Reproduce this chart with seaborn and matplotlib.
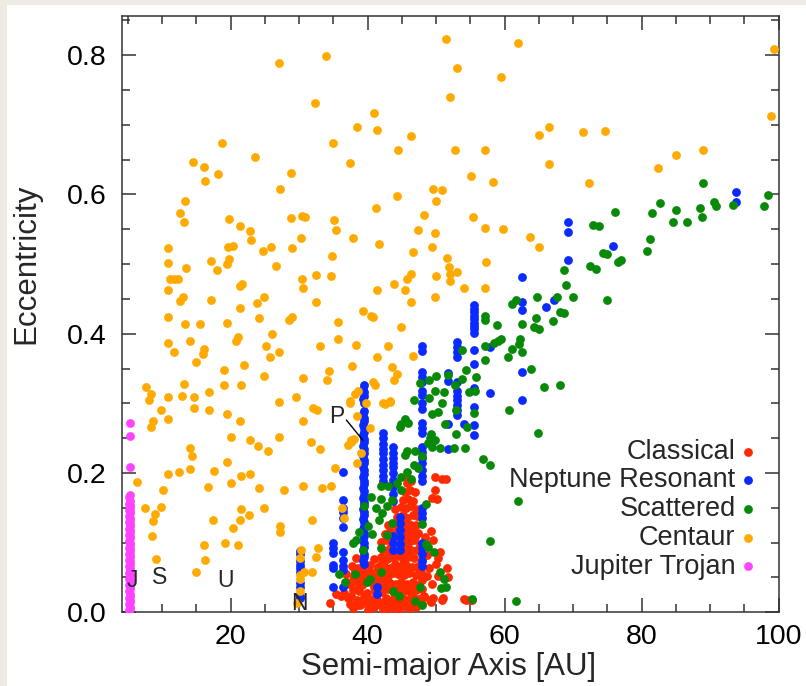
import matplotlib
matplotlib.use("Agg")
import matplotlib.pyplot as plt
from matplotlib.patches import Rectangle
from matplotlib.ticker import MultipleLocator, FormatStrFormatter
import seaborn as sns
import pandas as pd

# ---- Classical Kuiper belt objects: semi-major axis [AU], eccentricity
classical_a = [
    37.8, 38.9, 40.1, 41.0, 42.2, 43.0, 43.9, 44.6, 45.3, 46.1, 47.0, 48.0, 49.2,
    37.2, 38.4, 39.5, 40.6, 41.5, 42.7, 43.5, 44.2, 45.0, 45.8, 46.6, 47.4, 48.2, 49.5, 50.8, 54.0, 55.0,
    36.5, 37.9, 38.8, 39.9, 41.1, 42.1, 43.0, 43.8, 44.5, 45.4, 46.3, 47.1, 48.0,
    37.3, 38.3, 39.2, 40.5, 41.6, 42.5, 43.3, 44.1, 44.9, 45.7, 46.6, 47.5, 49.4,
    36.9, 38.0, 39.0, 40.1, 41.2, 42.0, 42.9, 43.7, 44.5, 45.3, 46.1, 47.0, 47.8, 50.3,
    37.7, 38.6, 40.3, 41.5, 42.4, 43.3, 44.0, 44.8, 45.6, 46.5, 47.3, 51.6,
    38.3, 41.0, 41.9, 42.8, 43.6, 44.3, 45.1, 45.9, 46.7, 48.0, 50.2,
    42.3, 43.2, 44.0, 44.9, 45.7, 46.4, 47.2, 50.6,
    41.9, 42.7, 43.5, 45.2, 46.0, 46.8, 49.6,
    42.5, 43.3, 44.3, 45.0, 45.8, 46.6, 47.4, 49.3,
    43.0, 44.0, 44.8, 45.5, 46.3, 47.1,
    44.3, 45.1, 45.8, 46.6, 47.2,
    44.0, 44.8, 45.6, 46.3, 47.0,
    45.2, 45.9, 46.6, 49.4, 50.1,
    45.5, 46.2, 46.9, 49.8,
    45.8, 46.4, 45.9, 49.9, 50.9, 51.4,
    41.6, 42.6, 43.4, 44.2, 45.0, 45.7, 46.5,
    42.5, 43.4, 44.3, 45.1, 45.9, 46.8,
    42.7, 43.5, 44.4, 45.2, 46.0,
    43.1, 43.9, 44.6, 45.4, 46.2,
    43.9, 44.7, 45.5, 46.2,
    44.5, 45.3, 46.0,
    34.5, 35.4, 36.1, 51.8, 54.3, 55.2, 49.1, 48.1, 51.0,
    37.4, 38.5, 39.6, 40.7, 41.8, 36.8, 37.9, 39.1, 40.2, 41.3,
    37.6, 38.7, 39.8, 40.9, 38.1, 39.3, 40.4, 41.4, 47.7, 48.4,
    42.0, 47.9, 48.6, 47.5, 46.9, 49.0, 50.0, 48.7,
]
classical_e = [
    0.006, 0.010, 0.004, 0.008, 0.005, 0.003, 0.007, 0.004, 0.009, 0.006, 0.008, 0.012, 0.015,
    0.020, 0.017, 0.022, 0.019, 0.016, 0.021, 0.018, 0.015, 0.020, 0.017, 0.022, 0.019, 0.024, 0.020, 0.018, 0.019, 0.018,
    0.028, 0.032, 0.030, 0.027, 0.031, 0.029, 0.033, 0.028, 0.031, 0.030, 0.027, 0.032, 0.034,
    0.041, 0.044, 0.039, 0.043, 0.040, 0.045, 0.042, 0.040, 0.044, 0.041, 0.043, 0.039, 0.040,
    0.055, 0.052, 0.057, 0.053, 0.056, 0.054, 0.052, 0.057, 0.055, 0.053, 0.056, 0.054, 0.058, 0.052,
    0.066, 0.063, 0.068, 0.065, 0.067, 0.064, 0.069, 0.066, 0.068, 0.065, 0.067, 0.064,
    0.078, 0.077, 0.080, 0.076, 0.079, 0.081, 0.077, 0.080, 0.078, 0.075, 0.078,
    0.089, 0.092, 0.088, 0.091, 0.093, 0.089, 0.090, 0.087,
    0.101, 0.104, 0.100, 0.103, 0.101, 0.104, 0.104,
    0.113, 0.116, 0.112, 0.115, 0.113, 0.116, 0.114, 0.117,
    0.125, 0.127, 0.124, 0.128, 0.126, 0.125,
    0.137, 0.139, 0.136, 0.140, 0.138,
    0.149, 0.151, 0.150, 0.152, 0.148,
    0.161, 0.163, 0.160, 0.164, 0.162,
    0.173, 0.175, 0.172, 0.176,
    0.185, 0.188, 0.192, 0.194, 0.192, 0.192,
    0.012, 0.013, 0.011, 0.012, 0.013, 0.011, 0.012,
    0.036, 0.037, 0.035, 0.036, 0.038, 0.035,
    0.060, 0.061, 0.059, 0.062, 0.060,
    0.084, 0.085, 0.083, 0.086, 0.084,
    0.108, 0.109, 0.107, 0.108,
    0.120, 0.121, 0.119,
    0.013, 0.026, 0.024, 0.050, 0.018, 0.018, 0.018, 0.022, 0.020,
    0.012, 0.010, 0.013, 0.011, 0.014, 0.043, 0.047, 0.048, 0.046, 0.049,
    0.024, 0.036, 0.025, 0.036, 0.060, 0.062, 0.058, 0.060, 0.096, 0.108,
    0.070, 0.046, 0.052, 0.062, 0.108, 0.064, 0.070, 0.082,
]

# ---- Objects in mean-motion resonance with Neptune
resonant_a = (
    [30.1] * 10
    + [35.0] * 6
    + [36.4] * 11
    + [39.4, 39.3, 39.5, 39.4, 39.3, 39.5, 39.4, 39.3, 39.5, 39.4, 39.3, 39.5, 39.4,
       39.3, 39.5, 39.4, 39.3, 39.5, 39.4, 39.3, 39.5, 39.4, 39.3, 39.5, 39.4, 39.3,
       39.5, 39.4, 39.3, 39.5, 39.4, 39.3, 39.5, 39.4, 39.3, 39.5, 39.4, 39.3, 39.5,
       39.4, 39.3, 39.5, 39.4, 39.3, 39.5, 39.4, 39.3, 39.5, 39.4, 39.3, 39.4]
    + [42.3] * 10 + [41.4, 41.4]
    + [43.7] * 13
    + [44.7] * 6
    + [47.9] * 27
    + [51.8] * 4
    + [53.0] * 11 + [54.0]
    + [55.5] * 15
    + [57.9, 57.9, 62.6, 62.6, 62.6, 62.6, 62.6, 66.1, 67.2,
       69.3, 69.3, 69.3, 75.8, 93.8, 93.8]
)
resonant_e = (
    [0.088, 0.083, 0.073, 0.068, 0.063, 0.058, 0.042, 0.037, 0.024, 0.020]
    + [0.099, 0.092, 0.085, 0.068, 0.063, 0.037]
    + [0.202, 0.161, 0.150, 0.144, 0.135, 0.122, 0.087, 0.075, 0.066, 0.061, 0.037]
    + [0.326, 0.321, 0.316, 0.311, 0.306, 0.301, 0.289, 0.284, 0.279, 0.274, 0.269,
       0.264, 0.259, 0.254, 0.249, 0.244, 0.239, 0.234, 0.229, 0.224, 0.219, 0.214,
       0.209, 0.204, 0.199, 0.194, 0.189, 0.184, 0.179, 0.174, 0.169, 0.164, 0.159,
       0.154, 0.149, 0.144, 0.139, 0.134, 0.129, 0.124, 0.119, 0.114, 0.109, 0.104,
       0.099, 0.094, 0.089, 0.084, 0.079, 0.074, 0.070]
    + [0.257, 0.250, 0.242, 0.235, 0.228, 0.220, 0.212, 0.204, 0.196, 0.188, 0.037, 0.026]
    + [0.237, 0.229, 0.222, 0.214, 0.208, 0.200, 0.190, 0.180, 0.170, 0.160, 0.109, 0.100, 0.089]
    + [0.137, 0.128, 0.118, 0.108, 0.098, 0.089]
    + [0.382, 0.375, 0.345, 0.338, 0.330, 0.318, 0.312, 0.300, 0.292, 0.272, 0.265,
       0.258, 0.238, 0.230, 0.222, 0.214, 0.205, 0.196, 0.188, 0.150, 0.142, 0.135,
       0.100, 0.092, 0.083, 0.074, 0.066]
    + [0.344, 0.332, 0.271, 0.235]
    + [0.388, 0.381, 0.374, 0.367, 0.331, 0.318, 0.311, 0.305, 0.298, 0.290, 0.283, 0.271]
    + [0.441, 0.436, 0.431, 0.426, 0.421, 0.416, 0.411, 0.406, 0.401, 0.376, 0.356,
       0.322, 0.295, 0.269, 0.255]
    + [0.381, 0.315, 0.482, 0.446, 0.434, 0.345, 0.305, 0.438, 0.448,
       0.561, 0.546, 0.506, 0.526, 0.603, 0.589]
)

# ---- Scattered disk objects
scattered_a = [
    98.4, 97.9, 89.0, 90.5, 90.8, 93.4, 88.55, 88.8, 82.7, 85.05, 84.5, 86.6, 81.5, 81.2,
    80.8, 76.05, 72.9, 75.0, 77.0, 76.5, 72.5, 73.3, 68.6, 68.9, 70.0, 75.0, 67.6, 64.7,
    61.7, 61.1, 68.1, 68.6, 67.1, 64.6, 64.3, 65.0, 62.5, 57.1, 57.1, 58.9, 59.4, 59.1,
    58.4, 57.2, 62.3, 62.1, 61.1, 62.6, 60.5, 57.2, 53.8, 54.3, 55.8, 53.8, 51.8, 50.0,
    49.0, 47.7, 68.1, 65.8, 63.9, 52.7, 51.1, 54.8, 55.7, 46.7, 49.0, 49.8, 50.9, 52.9,
    50.3, 49.4, 55.5, 60.6, 45.4, 44.9, 45.9, 44.7, 51.3, 54.5, 52.9, 49.3, 49.1, 49.9,
    48.8, 50.6, 52.6, 54.2, 49.4, 64.9, 56.8, 57.8, 61.9, 57.8, 61.6, 55.2, 50.5, 51.2,
    50.7, 46.9, 45.8, 45.4, 46.8, 48.0, 47.3, 45.8, 44.9, 44.3, 46.3, 44.9, 42.9, 41.9,
    40.5, 41.9, 42.8, 41.2, 39.5, 42.1, 43.6, 41.7, 40.1, 38.7, 38.3, 37.8, 39.3, 40.6,
    42.8, 43.5, 48.5, 47.9, 48.5, 48.8, 49.7, 35.8, 36.7, 38.1, 39.9, 40.3, 41.9, 41.9,
    47.6, 47.9, 46.9, 44.6, 43.7, 51.4, 74.3, 73.7,
]
scattered_e = [
    0.599, 0.584, 0.617, 0.589, 0.583, 0.585, 0.581, 0.567, 0.588, 0.578, 0.560, 0.560, 0.573, 0.536,
    0.519, 0.574, 0.556, 0.515, 0.506, 0.503, 0.497, 0.493, 0.491, 0.470, 0.453, 0.449, 0.453, 0.452,
    0.448, 0.442, 0.431, 0.430, 0.418, 0.422, 0.410, 0.406, 0.414, 0.425, 0.419, 0.412, 0.393, 0.390,
    0.386, 0.382, 0.392, 0.385, 0.378, 0.373, 0.366, 0.362, 0.376, 0.348, 0.338, 0.335, 0.341, 0.339,
    0.334, 0.329, 0.327, 0.324, 0.350, 0.326, 0.316, 0.316, 0.317, 0.305, 0.308, 0.317, 0.300, 0.290,
    0.287, 0.285, 0.286, 0.290, 0.277, 0.270, 0.272, 0.266, 0.270, 0.266, 0.256, 0.256, 0.250, 0.248,
    0.243, 0.236, 0.236, 0.236, 0.238, 0.258, 0.220, 0.211, 0.160, 0.103, 0.016, 0.019, 0.058, 0.048,
    0.035, 0.231, 0.231, 0.226, 0.212, 0.225, 0.207, 0.202, 0.194, 0.186, 0.191, 0.175, 0.182, 0.181,
    0.166, 0.162, 0.153, 0.150, 0.152, 0.142, 0.161, 0.132, 0.124, 0.115, 0.104, 0.099, 0.090, 0.112,
    0.111, 0.128, 0.156, 0.127, 0.098, 0.094, 0.087, 0.055, 0.043, 0.055, 0.043, 0.048, 0.058, 0.093,
    0.036, 0.011, 0.016, 0.024, 0.030, 0.036, 0.516, 0.555,
]

# ---- Centaurs
centaur_a = [
    51.5, 62.0, 99.3, 27.0, 33.85, 53.0, 59.5, 52.0, 32.25, 40.9, 38.4, 41.3, 46.4, 98.85,
    66.5, 65.0, 71.4, 74.6, 18.8, 35.0, 52.7, 44.4, 57.2, 85.05, 89.0, 66.5, 82.4, 23.6,
    14.55, 16.1, 16.3, 18.1, 37.4, 28.8, 55.05, 58.3, 72.3, 27.2, 49.55, 50.8, 44.3, 50.0,
    13.4, 41.15, 12.6, 13.2, 19.75, 28.75, 30.4, 30.9, 35.1, 35.35, 48.2, 55.4, 21.4, 22.9,
    57.2, 59.8, 63.75, 49.9, 30.3, 37.8, 47.3, 23.0, 41.7, 19.6, 20.3, 25.9, 24.7, 28.9,
    10.9, 49.4, 46.6, 65.0, 51.6, 19.4, 19.7, 17.1, 10.9, 13.5, 26.6, 51.9, 57.3, 18.0,
    34.8, 32.5, 34.6, 30.4, 30.6, 11.1, 11.8, 12.3, 10.9, 21.7, 21.4, 46.4, 45.8, 43.8,
    50.0, 52.0, 53.1, 52.0, 54.0, 57.1, 41.4, 45.4, 24.8, 23.9, 17.2, 12.6, 13.0, 21.4,
    32.5, 46.4, 49.9, 39.3, 40.5, 40.8, 10.9, 24.2, 19.4, 15.6, 13.4, 28.5, 28.9, 35.7,
    21.1, 20.8, 26.0, 25.1, 27.0, 25.7, 35.7, 38.3, 42.9, 44.9, 33.0, 10.8, 14.0, 11.7,
    16.1, 15.9, 14.9, 19.1, 21.9, 24.8, 37.7, 41.3, 43.5, 44.3, 43.8, 34.4, 34.1, 40.8,
    41.1, 30.6, 46.6, 13.2, 7.6, 8.4, 8.1, 10.9, 12.9, 14.6, 16.8, 19.1, 21.5, 27.0,
    29.5, 38.6, 37.4, 42.5, 43.2, 32.0, 32.6, 33.1, 9.9, 10.8, 8.4, 8.7, 14.6, 16.8,
    19.4, 21.4, 20.1, 22.9, 24.0, 25.4, 27.1, 30.6, 31.7, 38.4, 37.6, 38.0, 14.0, 14.3,
    14.1, 12.5, 10.8, 19.4, 17.6, 21.5, 22.8, 20.0, 16.7, 10.2, 6.3, 24.2, 27.8, 30.6,
    33.4, 34.6, 35.2, 38.5, 39.0, 36.3, 36.6, 7.5, 9.8, 8.6, 9.0, 21.5, 21.4, 22.7,
    24.9, 17.4, 20.3, 27.2, 27.2, 31.9, 8.5, 16.1, 19.2, 21.1, 16.2, 9.1, 14.9, 30.3,
    32.7, 32.4, 30.7, 31.9, 29.7, 30.1, 30.1, 30.1, 30.1, 39.8, 37.4, 38.1, 37.6, 37.2,
    42.3, 43.2, 40.3,
]
centaur_e = [
    0.823, 0.818, 0.809, 0.789, 0.798, 0.781, 0.769, 0.740, 0.731, 0.717, 0.697, 0.693, 0.684, 0.712,
    0.697, 0.685, 0.689, 0.691, 0.674, 0.674, 0.664, 0.663, 0.663, 0.657, 0.664, 0.643, 0.638, 0.653,
    0.647, 0.640, 0.619, 0.629, 0.645, 0.630, 0.627, 0.618, 0.617, 0.608, 0.608, 0.606, 0.597, 0.591,
    0.590, 0.581, 0.573, 0.560, 0.564, 0.566, 0.569, 0.567, 0.563, 0.549, 0.570, 0.568, 0.555, 0.547,
    0.552, 0.550, 0.539, 0.544, 0.538, 0.538, 0.549, 0.534, 0.529, 0.525, 0.526, 0.525, 0.519, 0.523,
    0.523, 0.524, 0.517, 0.524, 0.508, 0.500, 0.507, 0.505, 0.501, 0.495, 0.497, 0.496, 0.503, 0.491,
    0.511, 0.484, 0.483, 0.478, 0.466, 0.479, 0.478, 0.478, 0.463, 0.471, 0.468, 0.485, 0.478, 0.471,
    0.483, 0.486, 0.488, 0.476, 0.466, 0.466, 0.463, 0.463, 0.453, 0.444, 0.449, 0.447, 0.452, 0.437,
    0.445, 0.446, 0.453, 0.432, 0.426, 0.424, 0.424, 0.422, 0.415, 0.414, 0.414, 0.419, 0.424, 0.417,
    0.395, 0.390, 0.400, 0.382, 0.374, 0.366, 0.393, 0.384, 0.382, 0.409, 0.383, 0.387, 0.390, 0.373,
    0.378, 0.371, 0.360, 0.348, 0.355, 0.339, 0.353, 0.367, 0.352, 0.342, 0.333, 0.346, 0.333, 0.331,
    0.327, 0.336, 0.368, 0.328, 0.323, 0.314, 0.305, 0.309, 0.310, 0.309, 0.316, 0.327, 0.327, 0.302,
    0.309, 0.317, 0.304, 0.299, 0.303, 0.294, 0.290, 0.234, 0.291, 0.277, 0.266, 0.274, 0.293, 0.290,
    0.284, 0.275, 0.251, 0.247, 0.239, 0.231, 0.252, 0.275, 0.245, 0.282, 0.244, 0.249, 0.236, 0.224,
    0.206, 0.202, 0.199, 0.216, 0.203, 0.195, 0.199, 0.185, 0.180, 0.175, 0.187, 0.179, 0.175, 0.181,
    0.178, 0.181, 0.207, 0.214, 0.228, 0.150, 0.136, 0.150, 0.151, 0.131, 0.141, 0.148, 0.132, 0.140,
    0.150, 0.133, 0.121, 0.124, 0.115, 0.132, 0.109, 0.096, 0.099, 0.096, 0.075, 0.077, 0.058, 0.090,
    0.093, 0.080, 0.058, 0.058, 0.014, 0.078, 0.053, 0.048, 0.031, 0.300, 0.300, 0.314, 0.247, 0.240,
    0.300, 0.302, 0.264,
]

# ---- Jupiter Trojans
trojan_a = [
    5.2, 5.35, 5.2, 5.35, 5.2, 5.35, 5.2, 5.35, 5.2, 5.35, 5.2, 5.35, 5.2, 5.35,
    5.2, 5.35, 5.2, 5.35, 5.2, 5.35, 5.2, 5.35, 5.2, 5.35, 5.2, 5.35, 5.2, 5.35,
    5.2, 5.35, 5.2, 5.35, 5.2, 5.35, 5.2, 5.35, 5.2, 5.3, 5.3, 5.3, 5.3,
    5.3, 5.25, 5.3, 5.25, 5.3, 5.25, 5.3, 5.25, 5.3, 5.25, 5.3, 5.25, 5.3, 5.25,
    5.3, 5.25, 5.3,
]
trojan_e = [
    0.003, 0.008, 0.012, 0.017, 0.021, 0.026, 0.030, 0.034, 0.039, 0.043, 0.048, 0.052, 0.057, 0.061,
    0.066, 0.070, 0.075, 0.079, 0.084, 0.088, 0.093, 0.097, 0.102, 0.106, 0.111, 0.115, 0.120, 0.124,
    0.129, 0.133, 0.138, 0.142, 0.147, 0.151, 0.156, 0.160, 0.165, 0.168, 0.208, 0.253, 0.272,
    0.005, 0.015, 0.024, 0.036, 0.046, 0.055, 0.064, 0.073, 0.082, 0.091, 0.100, 0.109, 0.118, 0.127,
    0.136, 0.145, 0.154,
]

groups = ["Classical", "Neptune Resonant", "Scattered", "Centaur", "Jupiter Trojan"]
colors = {
    "Classical": "#ff2a00",
    "Neptune Resonant": "#0a2aff",
    "Scattered": "#088a08",
    "Centaur": "#ffaa00",
    "Jupiter Trojan": "#ff44ff",
}
series = {
    "Classical": (classical_a, classical_e),
    "Neptune Resonant": (resonant_a, resonant_e),
    "Scattered": (scattered_a, scattered_e),
    "Centaur": (centaur_a, centaur_e),
    "Jupiter Trojan": (trojan_a, trojan_e),
}
frames = [pd.DataFrame({"a": a, "e": e, "group": g}) for g, (a, e) in series.items()]
df = pd.concat(frames, ignore_index=True)

sns.set_style("ticks")
plt.rcParams["font.family"] = ["Liberation Sans", "DejaVu Sans"]

fig = plt.figure(figsize=(8.06, 6.86), dpi=100)
fig.patch.set_facecolor("#eeebe5")
fig.patches.append(Rectangle((7 / 806, 0), 1, 1 - 5 / 686, transform=fig.transFigure,
                             facecolor="white", edgecolor="none", zorder=-10))
ax = fig.add_axes([121.7 / 806, 1 - 612.3 / 686, 657.0 / 806, 596.6 / 686])

marker_s = 40
for g in groups:
    sns.scatterplot(data=df[df["group"] == g], x="a", y="e", color=colors[g],
                    s=marker_s, linewidth=0, label=g, ax=ax, zorder=3)

ax.set_xlim(4.1, 100)
ax.set_ylim(0, 0.8565)
ax.xaxis.set_major_locator(MultipleLocator(20))
ax.xaxis.set_minor_locator(MultipleLocator(5))
ax.yaxis.set_major_locator(MultipleLocator(0.2))
ax.yaxis.set_minor_locator(MultipleLocator(0.05))
ax.yaxis.set_major_formatter(FormatStrFormatter("%.1f"))

spine_col = "#333333"
for sp in ax.spines.values():
    sp.set_color(spine_col)
    sp.set_linewidth(1.1)
ax.tick_params(which="both", direction="in", top=True, right=True, color=spine_col,
               width=1.1, labelsize=20.5, labelcolor="black")
ax.tick_params(which="major", length=10)
ax.tick_params(which="minor", length=5.5)
ax.tick_params(axis="x", pad=8.5)
ax.tick_params(axis="y", pad=11)

ax.set_xlabel("Semi-major Axis [AU]", fontsize=22.5)
ax.set_ylabel("Eccentricity", fontsize=22.5)
ax.xaxis.set_label_coords(0.497, -0.066)
ax.yaxis.set_label_coords(-0.122, 0.584)

# planet markers
for name, x, y in [("J", 5.65, 0.046), ("S", 9.7, 0.050), ("U", 19.2, 0.046), ("N", 30.1, 0.013)]:
    ax.text(x, y, name, fontsize=16.5, ha="center", va="center", zorder=5)
ax.text(35.5, 0.281, "P", fontsize=16.5, ha="center", va="center", zorder=5)
ax.plot([36.9, 39.3], [0.276, 0.247], color="black", lw=1.0, zorder=5)

leg = ax.legend(loc="center right", bbox_to_anchor=(0.966, 0.173), frameon=False,
                markerfirst=False, fontsize=19.5, handlelength=0.6, handletextpad=0.17,
                labelspacing=0.1, borderpad=0, borderaxespad=0)
for h in leg.legend_handles:
    h.set_sizes([marker_s])

fig.savefig("out.png", dpi=100, facecolor=fig.get_facecolor())
